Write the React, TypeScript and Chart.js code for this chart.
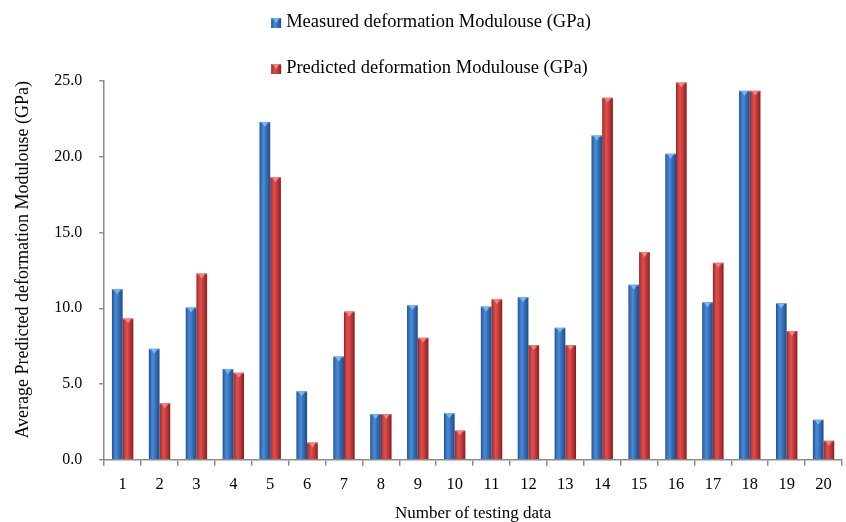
import React, { useEffect, useRef } from "react";
import { Chart, registerables } from "chart.js";

Chart.register(...registerables);

// Test cases 1..20
const categories = [
  "1", "2", "3", "4", "5", "6", "7", "8", "9", "10",
  "11", "12", "13", "14", "15", "16", "17", "18", "19", "20",
];

// Measured deformation modulus (GPa)
const measured = [
  11.25, 7.33, 10.05, 6.0, 22.3, 4.52, 6.82, 3.02, 10.2, 3.08,
  10.12, 10.72, 8.71, 21.4, 11.56, 20.2, 10.4, 24.35, 10.34, 2.65,
];

// Predicted deformation modulus (GPa)
const predicted = [
  9.32, 3.73, 12.3, 5.75, 18.65, 1.14, 9.78, 3.02, 8.05, 1.93,
  10.6, 7.57, 7.57, 23.9, 13.72, 24.9, 13.0, 24.35, 8.5, 1.26,
];

const yTicks = [0, 5, 10, 15, 20, 25];

const SERIF = "'Liberation Serif', 'Times New Roman', Times, serif";
const CAT_PCT = 0.58;

// [dark edge, body, highlight, cap]
const BLUE = ["#1f4c86", "#2f69b2", "#4b8ad4", "#7dbcf5"];
const RED = ["#82201f", "#bf3535", "#db5150", "#f58a86"];
const PALETTES = [BLUE, RED];

function shade(ctx: CanvasRenderingContext2D, pal: string[], left: number, w: number) {
  const g = ctx.createLinearGradient(left, 0, left + w, 0);
  g.addColorStop(0, pal[0]);
  g.addColorStop(0.12, pal[1]);
  g.addColorStop(0.38, pal[2]);
  g.addColorStop(0.7, pal[1]);
  g.addColorStop(1, pal[0]);
  return g;
}

function barFill(di: number) {
  const pal = PALETTES[di];
  return (c: any) => {
    const chart = c.chart;
    const xs = chart.scales && chart.scales.x;
    if (c.type !== "data" || !xs || !chart.chartArea) return pal[1];
    const catW = xs.width / categories.length;
    const w = (catW * CAT_PCT) / 2;
    const center = xs.getPixelForValue(c.dataIndex);
    const left = di === 0 ? center - w : center;
    return shade(chart.ctx, pal, left, w);
  };
}

function drawCap(ctx: CanvasRenderingContext2D, pal: string[], l: number, r: number, y: number) {
  const x = (l + r) / 2;
  ctx.save();
  ctx.fillStyle = pal[3];
  ctx.globalAlpha = 0.9;
  ctx.beginPath();
  ctx.moveTo(l + 2, y + 0.5);
  ctx.lineTo(r - 2, y + 0.5);
  ctx.lineTo(x, y + 5);
  ctx.closePath();
  ctx.fill();
  ctx.globalAlpha = 0.6;
  ctx.fillRect(l, y, r - l, 1);
  ctx.restore();
}

// Lighter bevelled cap on top of each bar
const capPlugin = {
  id: "barCaps",
  afterDatasetsDraw(chart: any) {
    const ctx = chart.ctx;
    chart.data.datasets.forEach((_ds: any, di: number) => {
      const meta = chart.getDatasetMeta(di);
      meta.data.forEach((bar: any) => {
        const { x, y, width } = bar.getProps(["x", "y", "width"], true);
        drawCap(ctx, PALETTES[di], x - width / 2, x + width / 2, y);
      });
    });
  },
};

// Two-row legend stacked above the plot
const LEGEND_FONT = 18.5;
const stackedLegend = {
  id: "stackedLegend",
  afterDraw(chart: any) {
    const ctx: CanvasRenderingContext2D = chart.ctx;
    ctx.save();
    ctx.font = `${LEGEND_FONT}px ${SERIF}`;
    ctx.textBaseline = "middle";
    ctx.fillStyle = "#000";
    const box = 10;
    const gap = 5;
    const labels: string[] = chart.data.datasets.map((d: any) => d.label);
    const widest = Math.max(...labels.map((t) => ctx.measureText(t).width));
    const groupW = box + gap + widest;
    const x0 = chart.width / 2 + 8 - groupW / 2;
    const rows = [22, 68];
    labels.forEach((text, i) => {
      const cy = rows[i];
      const pal = PALETTES[i];
      ctx.fillStyle = shade(ctx, pal, x0, box);
      ctx.fillRect(x0, cy - box / 2 + 1, box, box);
      drawCap(ctx, pal, x0, x0 + box, cy - box / 2 + 1);
      ctx.fillStyle = "#000";
      ctx.fillText(text, x0 + box + gap, cy);
    });
    ctx.restore();
  },
};

export default function App() {
  const canvasRef = useRef<HTMLCanvasElement | null>(null);

  useEffect(() => {
    const canvas = canvasRef.current;
    if (!canvas) return;
    const chart = new Chart(canvas, {
      type: "bar",
      data: {
        labels: categories,
        datasets: [
          {
            label: "Measured deformation Modulouse (GPa)",
            data: measured,
            backgroundColor: barFill(0),
            borderWidth: 0,
            categoryPercentage: CAT_PCT,
            barPercentage: 1,
          },
          {
            label: "Predicted deformation Modulouse (GPa)",
            data: predicted,
            backgroundColor: barFill(1),
            borderWidth: 0,
            categoryPercentage: CAT_PCT,
            barPercentage: 1,
          },
        ],
      },
      options: {
        responsive: false,
        animation: false,
        layout: { padding: { top: 81, left: 12, right: 4, bottom: -1.5 } },
        plugins: {
          tooltip: { enabled: false },
          legend: { display: false },
        },
        scales: {
          x: {
            type: "category",
            offset: true,
            grid: {
              display: true,
              offset: true,
              drawOnChartArea: false,
              drawTicks: true,
              tickLength: 6,
              color: "#8c8c8c",
              lineWidth: 1.5,
            },
            border: { display: true, color: "#8c8c8c", width: 1.5 },
            ticks: {
              color: "#000",
              padding: 8.5,
              maxRotation: 0,
              autoSkip: false,
              font: { family: SERIF, size: 16.5 },
            },
            title: {
              display: true,
              text: "Number of testing data",
              color: "#000",
              padding: { top: 0.5, bottom: 0 },
              font: { family: SERIF, size: 17 },
            },
          },
          y: {
            min: yTicks[0],
            max: yTicks[yTicks.length - 1],
            afterBuildTicks: (scale: any) => {
              scale.ticks = yTicks.map((v) => ({ value: v }));
            },
            grid: {
              display: true,
              drawOnChartArea: false,
              drawTicks: true,
              tickLength: 5,
              color: "#8c8c8c",
              lineWidth: 1.5,
            },
            border: { display: true, color: "#8c8c8c", width: 1.5 },
            ticks: {
              color: "#000",
              padding: 17,
              font: { family: SERIF, size: 16 },
              callback: (v: any) => Number(v).toFixed(1),
            },
            title: {
              display: true,
              align: "end",
              text: "Average Predicted deformation Modulouse (GPa)",
              color: "#000",
              padding: { top: 0, bottom: 3.6 },
              font: { family: SERIF, size: 18 },
            },
          },
        },
      },
      plugins: [capPlugin, stackedLegend],
    });
    return () => chart.destroy();
  }, []);

  return (
    <div style={{ position: "fixed", left: 0, top: 0, width: 846, height: 522, background: "#fff" }}>
      <canvas ref={canvasRef} width={846} height={522} style={{ display: "block" }} />
    </div>
  );
}
